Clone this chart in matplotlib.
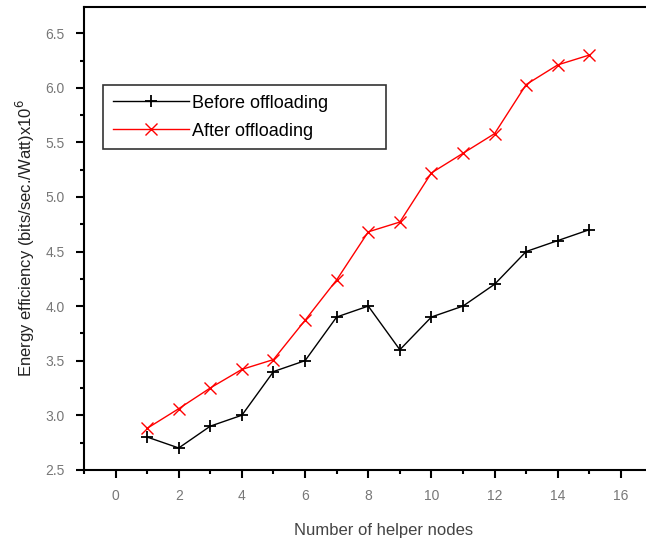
import matplotlib.pyplot as plt
from matplotlib.ticker import MultipleLocator

# helper nodes and energy efficiency values (x10^6)
nodes = [1, 2, 3, 4, 5, 6, 7, 8, 9, 10, 11, 12, 13, 14, 15]
before = [2.80, 2.70, 2.90, 3.00, 3.40, 3.50, 3.90, 4.00, 3.60, 3.90, 4.00, 4.20, 4.50, 4.60, 4.70]
after = [2.88, 3.06, 3.25, 3.42, 3.51, 3.87, 4.24, 4.68, 4.77, 5.22, 5.40, 5.58, 6.03, 6.21, 6.30]

plt.rcParams['font.family'] = ['Liberation Sans', 'DejaVu Sans']

fig = plt.figure(figsize=(6.46, 5.40), dpi=100)
# axes run past the right edge, like the cropped original
ax = fig.add_axes([0.130, 0.130, 0.929, 0.857])

ax.plot(nodes, before, color='black', lw=1, marker='+', ms=8, mew=1.3, label='Before offloading')
ax.plot(nodes, after, color='red', lw=1, marker='x', ms=8, mew=1, label='After offloading')

ax.set_xlim(-1, 18)
ax.set_ylim(2.5, 6.74)
ax.xaxis.set_major_locator(MultipleLocator(2))
ax.xaxis.set_minor_locator(MultipleLocator(1))
ax.yaxis.set_major_locator(MultipleLocator(0.5))
ax.yaxis.set_minor_locator(MultipleLocator(0.25))
ax.set_xticks(range(0, 17, 2))

ax.tick_params(which='both', direction='out', width=1.5, colors='black', labelcolor='#777777', labelsize=10)
ax.tick_params(which='major', length=6, pad=8)
ax.tick_params(which='minor', length=3)
for s in ax.spines.values():
    s.set_linewidth(1.5)

ax.set_xlabel('Number of helper nodes', fontsize=12, color='#444444', labelpad=14)
ax.set_ylabel('Energy efficiency (bits/sec./Watt)x10$^6$', fontsize=12, color='#222222', labelpad=6)

# legend box stretched to the width seen in the original
leg = ax.legend(loc='upper left', bbox_to_anchor=(0.032, 0.687, 0.472, 0.145), mode='expand',
                borderaxespad=0, fontsize=13, frameon=True, fancybox=False, edgecolor='black',
                handlelength=4.2, handletextpad=0.15, borderpad=0.55, labelspacing=0.6)
leg.get_frame().set_linewidth(1.2)

fig.savefig('out.png', dpi=100)
